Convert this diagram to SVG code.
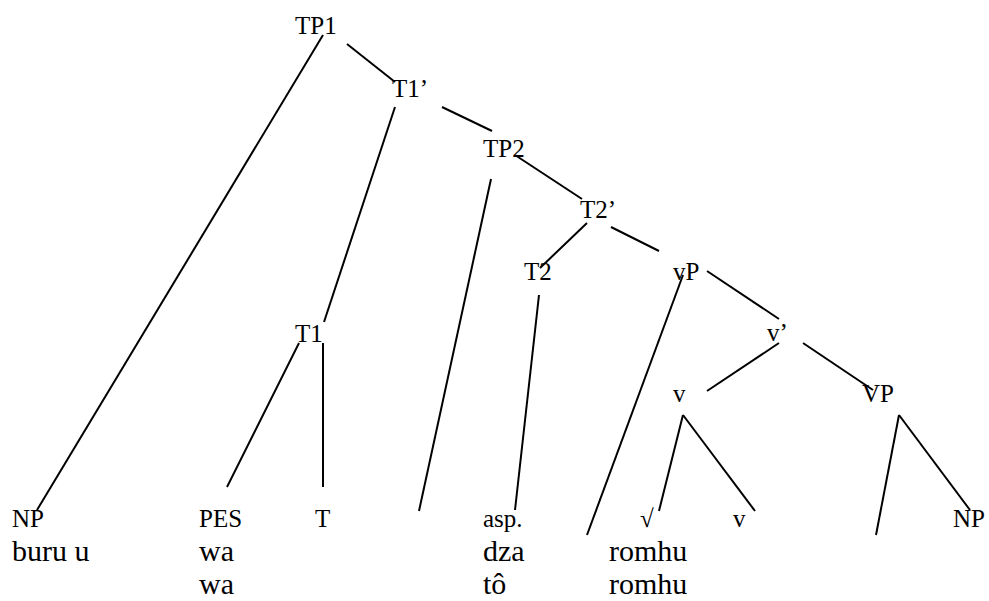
<svg xmlns="http://www.w3.org/2000/svg" width="989" height="601" viewBox="0 0 989 601">
<style>
.l{font-size:25px}
.w{font-size:30px}
line{stroke:#000;stroke-width:2}
</style>
<rect width="989" height="601" fill="#fff"/>
<g id="connectors">
<line x1="323" y1="35" x2="37" y2="510"/>
<line x1="347" y1="44" x2="395" y2="82"/>
<line x1="442" y1="107" x2="492" y2="131"/>
<line x1="395" y1="107" x2="324" y2="322"/>
<line x1="491" y1="179" x2="419" y2="511"/>
<line x1="515" y1="155" x2="582" y2="199"/>
<line x1="587" y1="223" x2="540" y2="268"/>
<line x1="611" y1="227" x2="659" y2="251"/>
<line x1="539" y1="295" x2="515" y2="510"/>
<line x1="683" y1="275" x2="587" y2="535"/>
<line x1="707" y1="271" x2="779" y2="319"/>
<line x1="779" y1="343" x2="707" y2="391"/>
<line x1="803" y1="343" x2="873" y2="390"/>
<line x1="683" y1="415" x2="659" y2="511"/>
<line x1="683" y1="415" x2="755" y2="511"/>
<line x1="899" y1="415" x2="876" y2="535"/>
<line x1="899" y1="415" x2="970" y2="510"/>
<line x1="299" y1="343" x2="227" y2="487"/>
<line x1="323" y1="343" x2="323" y2="487"/>
</g>
<g font-family="Liberation Serif, serif" fill="#000">
<g id="TP1"><text class="l" x="295" y="34">TP1</text></g>
<g id="T1bar"><text class="l" x="392" y="97">T1’</text></g>
<g id="TP2"><text class="l" x="483" y="157">TP2</text></g>
<g id="T2bar"><text class="l" x="580" y="218">T2’</text></g>
<g id="T2"><text class="l" x="524" y="280">T2</text></g>
<g id="vP"><text class="l" x="673" y="280">vP</text></g>
<g id="T1"><text class="l" x="295" y="342">T1</text></g>
<g id="vbar"><text class="l" x="767" y="341">v’</text></g>
<g id="v"><text class="l" x="673" y="402">v</text></g>
<g id="VP"><text class="l" x="862" y="402">VP</text></g>
<g id="NP1"><text class="l" x="12" y="527">NP</text><text class="w" x="12" y="561">buru u</text></g>
<g id="PES"><text class="l" x="199" y="527">PES</text><text class="w" x="199" y="561">wa</text><text class="w" x="199" y="594">wa</text></g>
<g id="T"><text class="l" x="315" y="527">T</text></g>
<g id="asp"><text class="l" x="483" y="527">asp.</text><text class="w" x="483" y="561">dza</text><text class="w" x="483" y="594">tô</text></g>
<g id="root"><text class="l" x="640" y="527">√</text><text class="w" x="609" y="561">romhu</text><text class="w" x="609" y="594">romhu</text></g>
<g id="v2"><text class="l" x="733" y="527">v</text></g>
<g id="NP2"><text class="l" x="953" y="527">NP</text></g>
</g>
</svg>
